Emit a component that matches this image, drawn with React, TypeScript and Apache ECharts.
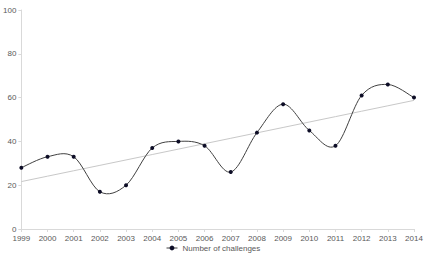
import React, { useEffect, useRef } from "react";
import * as echarts from "echarts";

const years = ["1999","2000","2001","2002","2003","2004","2005","2006","2007","2008","2009","2010","2011","2012","2013","2014"];
const challenges = [28, 33, 33, 17, 20, 37, 40, 38, 26, 44, 57, 45, 38, 61, 66, 60];
const yTicks = { min: 0, max: 100, interval: 20 };

function linearTrend(vals: number[]): number[] {
  const n = vals.length;
  const mx = (n - 1) / 2;
  const my = vals.reduce((a, b) => a + b, 0) / n;
  let sxy = 0, sxx = 0;
  vals.forEach((v, i) => { sxy += (i - mx) * (v - my); sxx += (i - mx) * (i - mx); });
  const slope = sxy / sxx;
  const b = my - slope * mx;
  return vals.map((_, i) => b + slope * i);
}

export default function App() {
  const ref = useRef<HTMLDivElement>(null);
  useEffect(() => {
    if (!ref.current) return;
    const chart = echarts.init(ref.current, undefined, { renderer: "svg" });
    const font = "Liberation Sans, Arial, sans-serif";
    const n = challenges.length;
    chart.setOption({
      animation: false,
      backgroundColor: "#ffffff",
      grid: { left: 21, right: 23, top: 10, bottom: 30, containLabel: false },
      legend: {
        bottom: 2,
        left: 161,
        data: ["Number of challenges"],
        itemWidth: 11,
        itemHeight: 6,
        itemGap: 4,
        lineStyle: { color: "#404040", width: 1, opacity: 1 },
        textStyle: { fontSize: 8, color: "#595959", fontFamily: font },
      },
      xAxis: {
        type: "category",
        data: years,
        boundaryGap: false,
        axisLine: { lineStyle: { color: "#d9d9d9" } },
        axisTick: { show: true, length: 3, lineStyle: { color: "#d9d9d9" } },
        axisLabel: { fontSize: 8, color: "#595959", fontFamily: font, margin: 5, interval: 0 },
        splitLine: { show: false },
      },
      yAxis: {
        type: "value",
        min: yTicks.min,
        max: yTicks.max,
        interval: yTicks.interval,
        axisLine: { show: true, lineStyle: { color: "#d9d9d9" } },
        axisTick: { show: true, length: 3, lineStyle: { color: "#d9d9d9" } },
        axisLabel: { fontSize: 8, color: "#595959", fontFamily: font, margin: 5 },
        splitLine: { show: false },
      },
      series: [
        {
          name: "Trend",
          type: "line",
          data: linearTrend(challenges),
          symbol: "none",
          lineStyle: { color: "#c8c8c8", width: 1 },
          z: 2,
          silent: true,
        },
        {
          name: "Curve",
          type: "custom",
          data: challenges.map((v, i) => [i, v]),
          encode: { x: 0, y: 1 },
          z: 3,
          silent: true,
          renderItem: (params: any, api: any) => {
            const i = params.dataIndex;
            if (i >= n - 1) return null;
            const pt = (k: number) => api.coord([Math.max(0, Math.min(n - 1, k)), challenges[Math.max(0, Math.min(n - 1, k))]]);
            const p0 = pt(i - 1), p1 = pt(i), p2 = pt(i + 1), p3 = pt(i + 2);
            const t = 1 / 6;
            return {
              type: "bezierCurve",
              shape: {
                x1: p1[0], y1: p1[1],
                x2: p2[0], y2: p2[1],
                cpx1: p1[0] + (p2[0] - p0[0]) * t,
                cpy1: p1[1] + (p2[1] - p0[1]) * t,
                cpx2: p2[0] - (p3[0] - p1[0]) * t,
                cpy2: p2[1] - (p3[1] - p1[1]) * t,
              },
              style: { stroke: "#404040", lineWidth: 1, fill: "none" },
            };
          },
        },
        {
          name: "Number of challenges",
          type: "line",
          data: challenges,
          symbol: "circle",
          symbolSize: 4,
          itemStyle: { color: "#0d0d26" },
          lineStyle: { color: "#404040", width: 0, opacity: 0 },
          z: 4,
        },
      ],
    });
    return () => chart.dispose();
  }, []);
  return <div ref={ref} style={{ width: 437, height: 259, position: "absolute", left: 0, top: 0 }} />;
}
